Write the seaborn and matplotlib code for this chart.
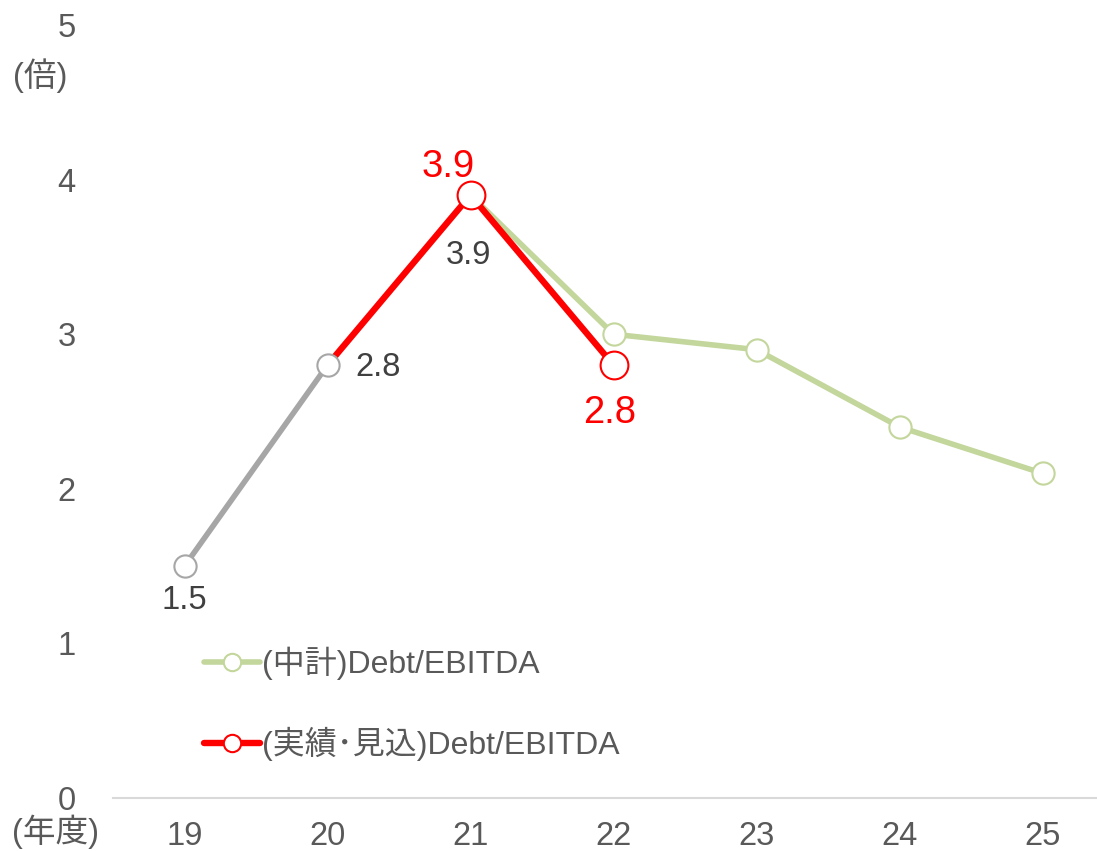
import matplotlib
matplotlib.use("Agg")
import matplotlib.pyplot as plt
from matplotlib.lines import Line2D
import seaborn as sns
import pandas as pd

# Fiscal years and Debt/EBITDA ratios (times)
years = [19, 20, 21, 22, 23, 24, 25]
actual_years = [19, 20]
actual_values = [1.5, 2.8]
forecast_years = [20, 21, 22]
forecast_values = [2.8, 3.9, 2.8]
plan_years = [21, 22, 23, 24, 25]
plan_values = [3.9, 3.0, 2.9, 2.4, 2.1]
ytick_values = [0, 1, 2, 3, 4, 5]
legend_labels = ["(中計)Debt/EBITDA", "(実績･見込)Debt/EBITDA"]

sns.set_theme(style="white")
plt.rcParams["font.family"] = ["Liberation Sans", "Noto Sans CJK JP", "DejaVu Sans"]

GRAY = "#a6a6a6"
RED = "#ff0000"
GREEN = "#c3d69b"
TEXT = "#595959"
DARK = "#404040"
FS = 23.5

fig = plt.figure(figsize=(10.97, 8.51), dpi=100)
ax = fig.add_axes([113 / 1097, 1 - 798 / 851, 1 - 113 / 1097, (798 - 25) / 851])

df_plan = pd.DataFrame({"year": plan_years, "value": plan_values})
df_fc = pd.DataFrame({"year": forecast_years, "value": forecast_values})
df_act = pd.DataFrame({"year": actual_years, "value": actual_values})

sns.lineplot(data=df_plan, x="year", y="value", ax=ax, color=GREEN, linewidth=4,
             marker="o", markersize=16, markerfacecolor="white",
             markeredgecolor=GREEN, markeredgewidth=1.5, legend=False, zorder=2)
sns.lineplot(data=df_fc, x="year", y="value", ax=ax, color=RED, linewidth=4.6,
             marker="o", markersize=20, markerfacecolor="white",
             markeredgecolor=RED, markeredgewidth=1.5, markevery=[1, 2],
             legend=False, zorder=3)
sns.lineplot(data=df_act, x="year", y="value", ax=ax, color=GRAY, linewidth=4,
             marker="o", markersize=16, markerfacecolor="white",
             markeredgecolor=GRAY, markeredgewidth=1.5, legend=False, zorder=4)

ax.set_xlim(18.5, 18.5 + (1097 - 113) / 143)
ax.set_ylim(0, 5)
ax.set_xticks(years)
ax.set_xticklabels([str(y) for y in years])
ax.set_yticks(ytick_values)
ax.set_yticklabels([str(v) for v in ytick_values])
ax.tick_params(axis="x", length=0, pad=16.5, labelsize=FS, labelcolor=TEXT)
ax.tick_params(axis="y", length=0, pad=27, labelsize=FS, labelcolor=TEXT)
ax.set_xlabel("")
ax.set_ylabel("")
for side in ["top", "right", "left"]:
    ax.spines[side].set_visible(False)
ax.spines["bottom"].set_color("#d9d9d9")
ax.spines["bottom"].set_linewidth(1.5)
ax.grid(False)

# Data labels
def label(x, y, text, dx, dy, color, size, ha="center"):
    ax.annotate(text, (x, y), xytext=(dx, dy), textcoords="offset points",
                ha=ha, va="center", color=color, fontsize=size, zorder=6)

label(19, 1.5, "1.5", 0, -25, DARK, FS)
label(20, 2.8, "2.8", 20, -2, DARK, FS, ha="left")
label(21, 3.9, "3.9", -1.5, -43.5, DARK, FS)
label(21, 3.9, "3.9", -16, 20.5, RED, 27.5)
label(22, 2.8, "2.8", -3, -34.5, RED, 27.5)

# Unit labels
fig.text(40 / 1097, 1 - 76 / 851, "(倍)", ha="center", va="center",
         color=TEXT, fontsize=FS)
fig.text(55 / 1097, 1 - 832 / 851, "(年度)", ha="center", va="center",
         color=TEXT, fontsize=FS)

handles = [
    Line2D([], [], color=GREEN, linewidth=4, marker="o", markersize=12.5,
           markerfacecolor="white", markeredgecolor=GREEN, markeredgewidth=1.5),
    Line2D([], [], color=RED, linewidth=4.6, marker="o", markersize=12.5,
           markerfacecolor="white", markeredgecolor=RED, markeredgewidth=1.5),
]
leg = fig.legend(handles, legend_labels, loc="upper left",
                 bbox_to_anchor=(204 / 1097, 1 - 647 / 851),
                 frameon=False, fontsize=23, handlelength=1.75,
                 handletextpad=0.05, labelspacing=1.45, borderpad=0,
                 borderaxespad=0)
for t in leg.get_texts():
    t.set_color(TEXT)

fig.savefig("out.png", dpi=100)
